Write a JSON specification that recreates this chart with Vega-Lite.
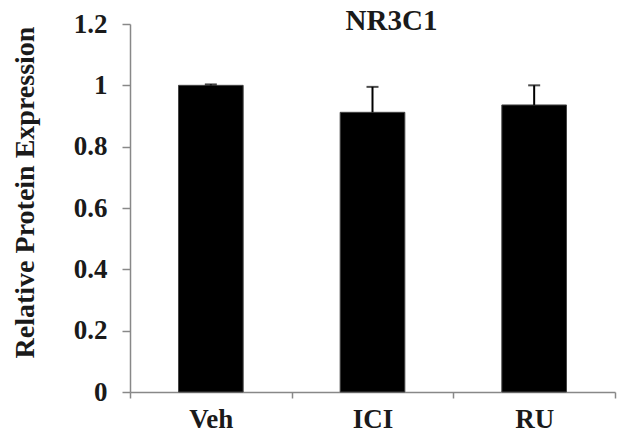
{
  "$schema": "https://vega.github.io/schema/vega-lite/v6.json",
  "autosize": {"type": "none"},
  "padding": {"left": 130, "top": 24, "right": 4, "bottom": 50},
  "width": 485,
  "height": 368,
  "background": "white",
  "title": {
    "text": "NR3C1",
    "font": "Liberation Serif",
    "fontSize": 29,
    "fontWeight": "bold",
    "color": "#1a1a1a",
    "anchor": "middle",
    "frame": "group",
    "baseline": "alphabetic",
    "offset": 0,
    "dx": 19,
    "dy": 49
  },
  "data": {
    "values": [
      {"group": "Veh", "value": 1.0, "upper": 1.003},
      {"group": "ICI", "value": 0.912, "upper": 0.995},
      {"group": "RU", "value": 0.936, "upper": 1.0}
    ]
  },
  "config": {
    "view": {"stroke": null},
    "axis": {
      "labelFont": "Liberation Serif",
      "titleFont": "Liberation Serif",
      "labelFontWeight": "bold",
      "titleFontWeight": "bold",
      "labelColor": "#1a1a1a",
      "titleColor": "#1a1a1a",
      "domainColor": "#888888",
      "tickColor": "#888888",
      "domainWidth": 1.5,
      "tickWidth": 1.5,
      "grid": false
    }
  },
  "encoding": {
    "x": {
      "field": "group",
      "type": "nominal",
      "sort": ["Veh", "ICI", "RU"],
      "scale": {"paddingInner": 0, "paddingOuter": 0},
      "axis": {
        "title": null,
        "labelAngle": 0,
        "labelFontSize": 27,
        "tickBand": "extent",
        "tickSize": 6,
        "labelPadding": 8
      }
    }
  },
  "layer": [
    {
      "mark": {"type": "bar", "color": "black", "stroke": "#444444", "strokeWidth": 1, "width": {"band": 0.4}},
      "encoding": {
        "y": {
          "field": "value",
          "type": "quantitative",
          "scale": {"domain": [0, 1.2], "nice": false},
          "axis": {
            "title": "Relative Protein Expression",
            "titleFontSize": 28,
            "labelFontSize": 27,
            "values": [0, 0.2, 0.4, 0.6, 0.8, 1, 1.2],
            "format": "~g",
            "tickSize": 8,
            "labelPadding": 15,
            "titlePadding": 34,
            "titleY": 168
          }
        }
      }
    },
    {
      "mark": {"type": "rule", "color": "black", "strokeWidth": 2},
      "encoding": {
        "y": {"field": "value", "type": "quantitative"},
        "y2": {"field": "upper"}
      }
    },
    {
      "mark": {"type": "tick", "color": "black", "thickness": 2, "size": 12, "orient": "horizontal"},
      "encoding": {
        "y": {"field": "upper", "type": "quantitative"}
      }
    }
  ]
}
